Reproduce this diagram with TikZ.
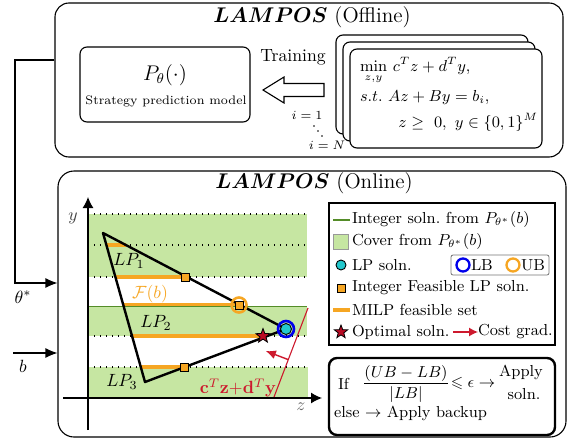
\documentclass[tikz,border=0pt]{standalone}
\usepackage{amsmath,amssymb}
\usetikzlibrary{arrows.meta,shapes.geometric,calc}
\definecolor{bandgreen}{RGB}{198,230,162}
\definecolor{lgreen}{RGB}{84,140,40}
\definecolor{morange}{RGB}{246,166,35}
\definecolor{mcyan}{RGB}{35,200,205}
\definecolor{mblue}{RGB}{0,0,235}
\definecolor{mred}{RGB}{205,25,45}
\definecolor{starred}{RGB}{185,10,35}
\begin{document}
\begin{tikzpicture}[x=1pt,y=-1pt,
  tx/.style={scale=1.77, inner sep=0pt, outer sep=0pt},
  panel/.style={draw, line width=1.1pt, rounded corners=14pt, inner sep=0pt},
  card/.style={draw, line width=1.1pt, rounded corners=7pt, fill=white, inner sep=0pt, minimum width=192pt, minimum height=99pt},
  sq/.style={draw, line width=0.8pt, fill=morange, minimum size=8pt, inner sep=0pt},
  dotline/.style={line width=1.2pt, dash pattern=on 1.2pt off 4.8pt},
  feas/.style={morange, line width=3.8pt},
  tri/.style={line width=2.4pt, line join=round},
  arr/.style={-{Latex[length=12pt,width=10pt]}, line width=1.1pt},
  mystar/.style={star, star points=5, star point ratio=2.4, draw, line width=0.8pt, fill=starred, minimum size=15pt, inner sep=0pt},
  lpdot/.style={circle, draw, line width=0.9pt, fill=mcyan, minimum size=11pt, inner sep=0pt},
  ring/.style={circle, line width=2.6pt, minimum size=15pt, inner sep=0pt},
  legtxt/.style={tx, font=\small, anchor=west},
  dotpt/.style={circle, fill=black, minimum size=1.8pt, inner sep=0pt},
]
\useasboundingbox (0,0) rectangle (567,439);

% panels
\node[panel, minimum width=508pt, minimum height=154pt] (off) at (309,80) {};
\node[panel, rounded corners=16pt, minimum width=508pt, minimum height=266pt] (on) at (312,304) {};
\node[tx, font=\large] (offt) at (312,17) {$\boldsymbol{LAMPOS}$ (Offline)};
\node[tx, font=\large] (ont) at (314,183) {$\boldsymbol{LAMPOS}$ (Online)};

% offline content
\node[draw, line width=1.1pt, rounded corners=7pt, minimum width=170pt, minimum height=75pt, inner sep=0pt] (pbox) at (165,84.5) {};
\node[tx, font=\large] (pt) at (165,75) {$P_\theta(\cdot)$};
\node[tx, font=\scriptsize] (ptxt) at (166,101) {Strategy prediction model};
\node[tx] (train) at (293,57) {Training};
\draw[line width=1.1pt, line join=miter, fill=white] (263,90) -- (284,77) -- (284,83.5) -- (324,83.5) -- (324,96.5) -- (284,96.5) -- (284,103) -- cycle;
\node[tx, font=\scriptsize] (i1) at (307,115) {$i=1$};
\node[dotpt] (d1) at (314,126) {};
\node[dotpt] (d2) at (318,131) {};
\node[dotpt] (d3) at (322,136) {};
\node[tx, font=\scriptsize] (iN) at (327,145) {$i=N$};
\node[card] (c3) at (432,84.5) {};
\node[card] (c2) at (439,91.5) {};
\node[card] (c1) at (446,98.5) {};
\node[tx, font=\small, anchor=west] (f1) at (360,71) {$\min\limits_{z,y}\, c^T z + d^T y,$};
\node[tx, font=\small, anchor=west] (f2) at (360,98) {$s.t.\ Az + By = b_i,$};
\node[tx, font=\small, anchor=east] (f3) at (538,122) {$z \geq\ 0,\ y \in \{0,1\}^M$};

% inputs
\coordinate (tout) at (15,60);
\coordinate (tin) at (15,283);
\draw[arr] (off.west |- tout) -- (tout) -- (tin) -- (on.west |- tin);
\node[tx] (theta) at (23,297) {$\theta^*$};
\coordinate (bin) at (13,353);
\draw[arr] (bin) -- (on.west |- bin);
\node[tx] (blab) at (23,366) {$b$};

% bands
\fill[bandgreen] (88,214) rectangle (307,277);
\fill[bandgreen] (88,306) rectangle (307,336);
\fill[bandgreen] (88,367) rectangle (308,398);
\foreach \yy in {214,245,277,336} \draw[dotline] (88,\yy) -- (307,\yy);
\draw[dotline] (88,367) -- (308,367);
\draw[lgreen, line width=1.8pt] (88,306.5) -- (307,306.5);

% feasible set
\draw[feas] (106,245) -- (126,245);
\draw[feas] (115,277) -- (185,277);
\draw[feas] (123,304.5) -- (239,304.5);
\draw[feas] (132,336) -- (263,336);
\draw[feas] (141,367) -- (184,367);

% triangle
\coordinate (A) at (103,233);
\coordinate (B) at (286,329);
\coordinate (C) at (145,382);
\draw[tri] (A) -- (B) -- (C) -- cycle;

% cost
\coordinate (cl1) at (274,397);
\coordinate (cl2) at (308,308);
\draw[mred, line width=1.1pt] (cl1) -- (cl2);
\coordinate (ga) at ($(cl1)!0.42!(cl2)$);
\coordinate (gb) at ($(ga)!24pt!90:(cl2)$);
\draw[mred, line width=1.4pt, -{Latex[length=10pt,width=9pt]}] (ga) -- (gb);
\node[tx, text=mred] (cost) at (238,388) {$\mathbf{c}^T\mathbf{z}{+}\mathbf{d}^T\mathbf{y}$};

% markers
\node[sq] (s1) at (185,277) {};
\node[sq] (s3) at (184,367) {};
\node[ring, draw=morange] (ub) at (239,305) {};
\node[sq] (s2) at (239,305) {};
\node[lpdot] (lp) at (286,329) {};
\node[ring, draw=mblue, minimum size=16pt] (lb) at (286,329) {};
\node[mystar] (opt) at (263,336) {};

% labels
\node[tx] (lp1) at (129,261) {$LP_1$};
\node[tx, text=morange] (fb) at (150,294) {$\mathcal{F}(b)$};
\node[tx] (lp2) at (156,323) {$LP_2$};
\node[tx] (lp3) at (122,382) {$LP_3$};

% axes
\draw[line width=1.2pt, -{Latex[length=11pt,width=11pt]}] (88,430) -- (88,197);
\draw[line width=1.2pt, -{Latex[length=11pt,width=11pt]}] (63,398) -- (322,398);
\node[tx, text=black!75] (ylab) at (73,218) {$y$};
\node[tx, text=black!60] (zlab) at (301,407) {$z$};

% legend
\node[draw, line width=1.1pt, minimum width=226pt, minimum height=142pt, inner sep=0pt] (leg) at (442,274) {};
\draw[lgreen, line width=2pt] (333,220) -- (350,220);
\node[legtxt] (l1) at (352,220) {Integer soln.\ from $P_{\theta^*}(b)$};
\node[fill=bandgreen, draw=black!40, line width=0.6pt, minimum width=15pt, minimum height=15pt, inner sep=0pt] (gsq) at (341,242) {};
\node[legtxt] (l2) at (352,242) {Cover from $P_{\theta^*}(b)$};
\node[lpdot, minimum size=10pt] (llp) at (341,265) {};
\node[legtxt] (l3) at (352,265) {LP soln.};
\node[draw=black!55, line width=0.8pt, rounded corners=2pt, minimum width=98pt, minimum height=20pt, inner sep=0pt] (lbub) at (500,265) {};
\node[ring, draw=mblue, line width=2.3pt, minimum size=13pt] (llb) at (463,265) {};
\node[legtxt] (llbt) at (471,265) {LB};
\node[ring, draw=morange, line width=2.3pt, minimum size=13pt] (lub) at (513,265) {};
\node[legtxt] (lubt) at (521,265) {UB};
\node[sq] (lsq) at (341,288) {};
\node[legtxt] (l4) at (352,288) {Integer Feasible LP soln.};
\draw[feas] (333,310) -- (350,310);
\node[legtxt] (l5) at (352,310) {MILP feasible set};
\node[mystar, minimum size=14pt] (lst) at (341,332) {};
\node[legtxt] (l6) at (352,332) {Optimal soln.};
\coordinate (ca) at (453,332);
\coordinate (cb) at (478,332);
\draw[mred, line width=1.3pt, -{Latex[length=9pt,width=9pt]}] (ca) -- (cb);
\node[legtxt] (l7) at (478,332) {Cost grad.};

% decision
\node[draw, line width=2.4pt, rounded corners=8pt, minimum width=226pt, minimum height=77pt, inner sep=0pt] (dec) at (442,396.5) {};
\node[tx, font=\small, anchor=west] (dif) at (338,384) {If};
\node[tx, font=\small] (dfr) at (406,384) {$\dfrac{(UB-LB)}{|LB|}$};
\node[tx, font=\small] (dle) at (473,384) {$\leqslant\epsilon\rightarrow$};
\node[tx, font=\small] (dap) at (521,372) {Apply};
\node[tx, font=\small] (dso) at (524,394) {soln.};
\node[tx, font=\small, anchor=west] (del) at (334,413) {else $\rightarrow$ Apply backup};
\end{tikzpicture}
\end{document}
